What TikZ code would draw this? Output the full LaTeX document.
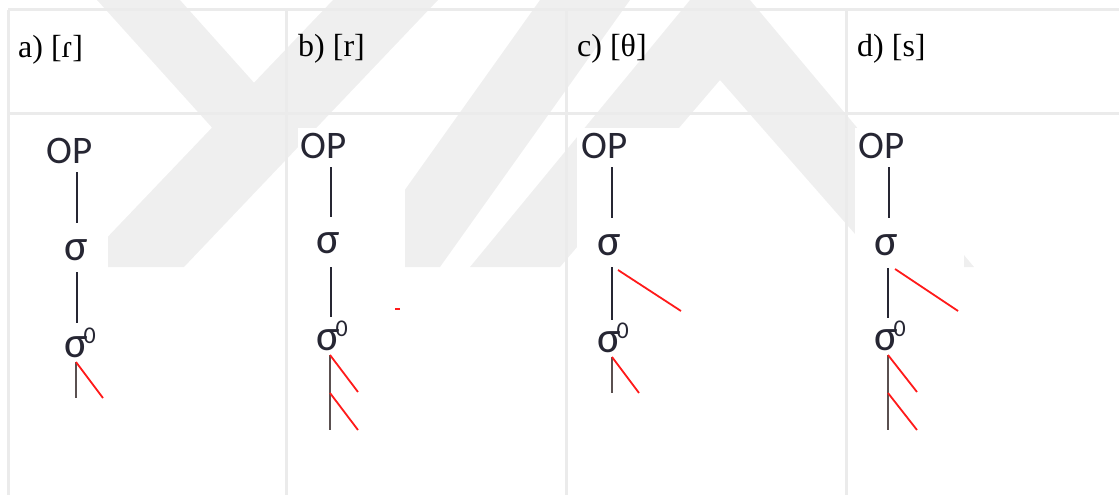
\documentclass[tikz,border=0pt]{standalone}
\usepackage{fontspec}
\setmainfont{Liberation Serif}
\newfontfamily\diafont{Carlito}
\definecolor{gridColor}{HTML}{EBEBEB}
\definecolor{markColor}{HTML}{EFEFEF}
\definecolor{stemColor}{HTML}{262633}
\definecolor{footColor}{HTML}{5A5050}
\definecolor{tierColor}{HTML}{FF1A1A}
\newcommand{\moraic}{σ\kern-4pt\raisebox{14pt}{\fontsize{24}{24}\selectfont 0}}

\begin{document}
\begin{tikzpicture}[x=1pt, y=-1pt,
    head/.style={anchor=base west, inner sep=0pt, font=\fontsize{32}{34}\selectfont},
    tier/.style={anchor=base west, inner sep=0pt, text=stemColor, font=\diafont\fontsize{39}{40}\selectfont},
    syl/.style={anchor=base west, inner sep=0pt, text=stemColor, font=\diafont\fontsize{44}{44}\selectfont},
    stem/.style={stemColor, line width=2pt},
    foot/.style={footColor, line width=2pt},
    assoc/.style={tierColor, line width=1.8pt}]
    \useasboundingbox (0,0) rectangle (1119,495);
    % watermark
    \fill[markColor] (97,0) -- (180,0) -- (254,82.7) -- (333,0) -- (438,0) -- (184,267)
        -- (79,267) -- (212,127.6) -- cycle;
    \fill[markColor] (540,0) -- (630,0) -- (440,267) -- (350,267) -- cycle;
    \fill[markColor] (690,0) -- (750,0) -- (974,267) -- (884,267) -- (720,80)
        -- (560,267) -- (470,267) -- cycle;
    % white cut-outs behind the trees
    \fill[white] (8,128) rectangle (108,495);
    \fill[white] (298,128) rectangle (405,495);
    \fill[white] (577,128) rectangle (688,495);
    \fill[white] (855,128) rectangle (964,495);
    % table
    \draw[gridColor, line width=3pt] (8,10) -- (1119,10);
    \draw[gridColor, line width=3pt] (8,113) -- (1119,113);
    \foreach \cx in {8,286,566,846}
        \draw[gridColor, line width=3pt] (\cx,10) -- (\cx,495);
    % headers
    \node[head] (ha) at (18,58) {a) [ɾ]};
    \node[head] (hb) at (298,57) {b) [r]};
    \node[head] (hc) at (577,57) {c) [θ]};
    \node[head] (hd) at (857,57) {d) [s]};
    % a)
    \node[tier] (opa) at (46,163) {OP};
    \node[syl] (sa) at (64,260) {σ};
    \node[syl] (ma) at (64,357) {\moraic};
    \coordinate (a1) at (77,172); \coordinate (a2) at (77,223);
    \coordinate (a3) at (77,272); \coordinate (a4) at (77,323);
    \coordinate (a5) at (76,362); \coordinate (a6) at (76,398);
    \coordinate (a7) at (103,398);
    \draw[stem] (a1) -- (a2);
    \draw[stem] (a3) -- (a4);
    \draw[foot] (a5) -- (a6);
    \draw[assoc] (a5) -- (a7);
    % b)
    \node[tier] (opb) at (300,158) {OP};
    \node[syl] (sb) at (316,253) {σ};
    \node[syl] (mb) at (316,350) {\moraic};
    \coordinate (b1) at (331,167); \coordinate (b2) at (331,217);
    \coordinate (b3) at (331,267); \coordinate (b4) at (331,317);
    \coordinate (b5) at (330,355); \coordinate (b6) at (330,393);
    \coordinate (b7) at (330,430); \coordinate (b8) at (358,392);
    \coordinate (b9) at (358,430);
    \coordinate (b10) at (395,309); \coordinate (b11) at (400,309);
    \draw[stem] (b1) -- (b2);
    \draw[stem] (b3) -- (b4);
    \draw[foot] (b5) -- (b7);
    \draw[assoc] (b5) -- (b8);
    \draw[assoc] (b6) -- (b9);
    \draw[assoc] (b10) -- (b11);
    % c)
    \node[tier] (opc) at (581,158) {OP};
    \node[syl] (sc) at (597,255) {σ};
    \node[syl] (mc) at (597,352) {\moraic};
    \coordinate (c1) at (612,167); \coordinate (c2) at (612,218);
    \coordinate (c3) at (612,267); \coordinate (c4) at (612,320);
    \coordinate (c5) at (618,270); \coordinate (c6) at (681,311);
    \coordinate (c7) at (612,357); \coordinate (c8) at (612,393);
    \coordinate (c9) at (639,393);
    \draw[stem] (c1) -- (c2);
    \draw[stem] (c3) -- (c4);
    \draw[assoc] (c5) -- (c6);
    \draw[foot] (c7) -- (c8);
    \draw[assoc] (c7) -- (c9);
    % d)
    \node[tier] (opd) at (858,158) {OP};
    \node[syl] (sd) at (874,255) {σ};
    \node[syl] (md) at (874,350) {\moraic};
    \coordinate (d1) at (889,167); \coordinate (d2) at (889,218);
    \coordinate (d3) at (888,268); \coordinate (d4) at (888,318);
    \coordinate (d5) at (895,269); \coordinate (d6) at (958,311);
    \coordinate (d7) at (888,355); \coordinate (d8) at (888,393);
    \coordinate (d9) at (888,430); \coordinate (d10) at (917,392);
    \coordinate (d11) at (917,430);
    \draw[stem] (d1) -- (d2);
    \draw[stem] (d3) -- (d4);
    \draw[assoc] (d5) -- (d6);
    \draw[foot] (d7) -- (d9);
    \draw[assoc] (d7) -- (d10);
    \draw[assoc] (d8) -- (d11);
\end{tikzpicture}
\end{document}
